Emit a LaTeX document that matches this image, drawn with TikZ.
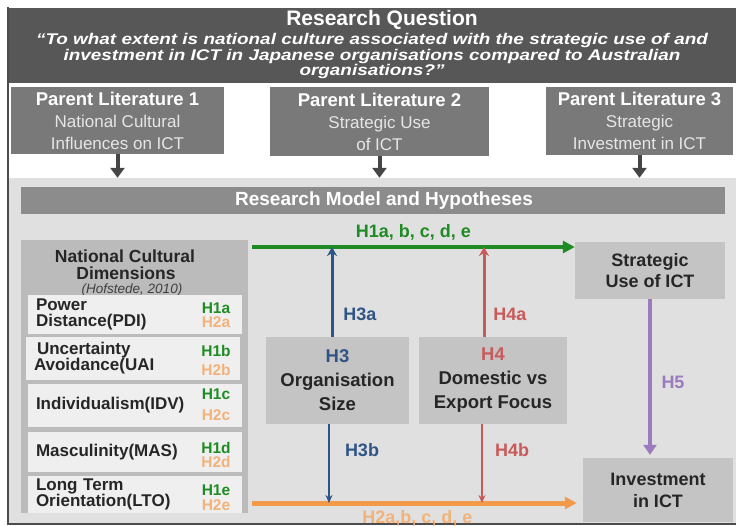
\documentclass[tikz,border=0pt]{standalone}
\usepackage{fontspec}
\setmainfont{Liberation Sans}
\newfontfamily\quotefont[FakeStretch=1.22]{Liberation Sans}
\usetikzlibrary{arrows.meta}
\definecolor{qdark}{HTML}{575757}
\definecolor{litgray}{HTML}{797979}
\definecolor{litsub}{HTML}{E6E6E6}
\definecolor{litarr}{HTML}{454545}
\definecolor{panelgray}{HTML}{E0E0E0}
\definecolor{bargray}{HTML}{8C8C8C}
\definecolor{boxgray}{HTML}{C4C4C4}
\definecolor{itemgray}{HTML}{EFEFEF}
\definecolor{hgreen}{HTML}{1F8B24}
\definecolor{horange}{HTML}{F39A4A}
\definecolor{horangetxt}{HTML}{F2B27A}
\definecolor{hblue}{HTML}{2F5587}
\definecolor{hred}{HTML}{C95A5A}
\definecolor{hpurple}{HTML}{9A7BBD}
\newcommand{\fsz}[2]{\fontsize{#1}{#2}\selectfont}

\begin{document}
\begin{tikzpicture}[x=1pt,y=-1pt,
  box/.style={inner sep=0pt,align=center},
  litbox/.style={box,fill=litgray,text=litsub,font=\fsz{17}{22}},
  midbox/.style={box,fill=boxgray,text=black!85,font=\bfseries\fsz{18.5}{24}},
  item/.style={fill=itemgray,text width=198pt,inner xsep=8pt,inner ysep=0pt,align=left,text=black!85,font=\bfseries\fsz{17}{16}},
  hlab/.style={font=\bfseries\fsz{18}{20}},
  hsmall/.style={font=\bfseries\fsz{15.5}{16}},
  quote/.style={anchor=base,text=white,font=\quotefont\bfseries\itshape\fsz{15.5}{16}},
  litarrow/.style={litarr,line width=4pt,-{Triangle[length=10pt,width=14pt]}},
  thick arrow/.style={line width=4.5pt,-{Triangle[length=12pt,width=12pt]}},
  side arrow/.style={line width=3pt,-{Stealth[length=9pt,width=10pt]}},
  down arrow/.style={line width=2.5pt,-{Stealth[length=8pt,width=7pt]}}]
\useasboundingbox (0,0) rectangle (736,525);

% research question
\node[box,fill=qdark,minimum width=727,minimum height=75] (quest) at (372.5,45.5) {};
\node[text=white,font=\bfseries\fsz{21}{22}] (qtitle) at (382,20) {Research Question};
\node[quote] (ql1) at (372,44) {“To what extent is national culture associated with the strategic use of and};
\node[quote] (ql2) at (372,60) {investment in ICT in Japanese organisations compared to Australian};
\node[quote] (ql3) at (372,75.5) {organisations?”};

% parent literature
\node[litbox,minimum width=213,minimum height=67] (lit1) at (117.5,120.5) {{\color{white}\bfseries\fsz{18.5}{22}Parent Literature 1}\\National Cultural\\Influences on ICT};
\node[litbox,minimum width=219,minimum height=69] (lit2) at (379.5,121.5) {{\color{white}\bfseries\fsz{18.5}{22}Parent Literature 2}\\Strategic Use\\of ICT};
\node[litbox,minimum width=187,minimum height=68] (lit3) at (639.5,121) {{\color{white}\bfseries\fsz{18.5}{22}Parent Literature 3}\\Strategic\\Investment in ICT};

% model panel
\node[box,fill=panelgray,minimum width=727,minimum height=347] (panel) at (372.5,351.5) {};
\draw[black!70,line width=1.2pt] (8,7) -- (8,524) -- (737,524);
\foreach \l in {lit1,lit2,lit3}
  \draw[litarrow] (\l.south) -- (\l.south |- panel.north);
\node[box,fill=bargray,minimum width=704,minimum height=27] (bar) at (373,200.5) {};
\node[text=white,font=\bfseries\fsz{19}{20}] (bartext) at (384,200.5) {Research Model and Hypotheses};

% cultural dimensions
\node[box,fill=boxgray!115,minimum width=227,minimum height=273] (ncd) at (134.5,376.5) {};
\node[anchor=base,text=black!85,font=\bfseries\fsz{17.5}{18}] (ncd1) at (125,262) {National Cultural};
\node[anchor=base,text=black!85,font=\bfseries\fsz{17.5}{18}] (ncd2) at (126,279) {Dimensions};
\node[anchor=base,text=black!75,font=\itshape\fsz{13.5}{14}] (ncd3) at (132,293.5) {(Hofstede, 2010)};
\foreach \n/\x/\y/\h/\t in {pdi/135/314.5/39/{Power\\Distance(PDI)},
    uai/133/358.5/43/{\hspace{3pt}Uncertainty\\Avoidance(UAI},
    idv/135/405.5/43/{Individualism(IDV)},
    mas/135/452/40/{Masculinity(MAS)},
    lto/135/494.5/37/{Long Term\\Orientation(LTO)}}
  \node[item,minimum height=\h] (\n) at (\x,\y) {\t};
\foreach \l/\a/\b in {a/308.5/322.5, b/350.5/369.5, c/394.5/415.5, d/448/462, e/490/505} {
  \node[hsmall,text=hgreen] (h1\l) at (216,\a) {H1\l};
  \node[hsmall,text=horangetxt] (h2\l) at (216,\b) {H2\l};
  }

% moderators and outcomes
\node[midbox,minimum width=143,minimum height=87] (orgsize) at (337.5,380.5) {{\color{hblue}H3}\\Organisation\\Size};
\node[midbox,minimum width=148,minimum height=87] (export) at (493,380.5) {{\color{hred}H4}\\Domestic vs\\Export Focus};
\node[midbox,font=\bfseries\fsz{18}{21},minimum width=150,minimum height=57] (suse) at (650,270.5) {Strategic\\Use of ICT};
\node[midbox,font=\bfseries\fsz{18}{22},minimum width=150,minimum height=64] (invest) at (658,490) {Investment\\in ICT};

\coordinate (gstart) at (252,247);
\coordinate (ostart) at (252,503);
\draw[thick arrow,hgreen] (gstart) -- (gstart -| suse.west) node[midway,above=1pt,hlab] (h1) {H1a, b, c, d, e};
\draw[thick arrow,horange,line width=5pt,shorten >=6pt] (ostart) -- (ostart -| invest.west) node[midway,below=2pt,hlab,text=horangetxt] (h2) {H2a,b, c, d, e};
\draw[side arrow,hblue] ([xshift=-5.5pt]orgsize.north) coordinate (b1) -- (b1 |- gstart);
\draw[down arrow,hblue] ([xshift=-8.5pt]orgsize.south) coordinate (b2) -- (b2 |- ostart);
\draw[side arrow,hred] ([xshift=-9pt]export.north) coordinate (r1) -- (r1 |- gstart);
\draw[down arrow,hred] ([xshift=-11pt]export.south) coordinate (r2) -- (r2 |- ostart);
\draw[hpurple,line width=4pt,-{Triangle[length=10pt,width=13pt]},shorten >=3pt] (suse.south) -- (suse.south |- invest.north);
\node[hlab,text=hblue] (h3a) at (360,314) {H3a};
\node[hlab,text=hblue] (h3b) at (362,450) {H3b};
\node[hlab,text=hred] (h4a) at (510,314) {H4a};
\node[hlab,text=hred] (h4b) at (512,450) {H4b};
\node[hlab,text=hpurple] (h5) at (673,382) {H5};
\end{tikzpicture}
\end{document}
